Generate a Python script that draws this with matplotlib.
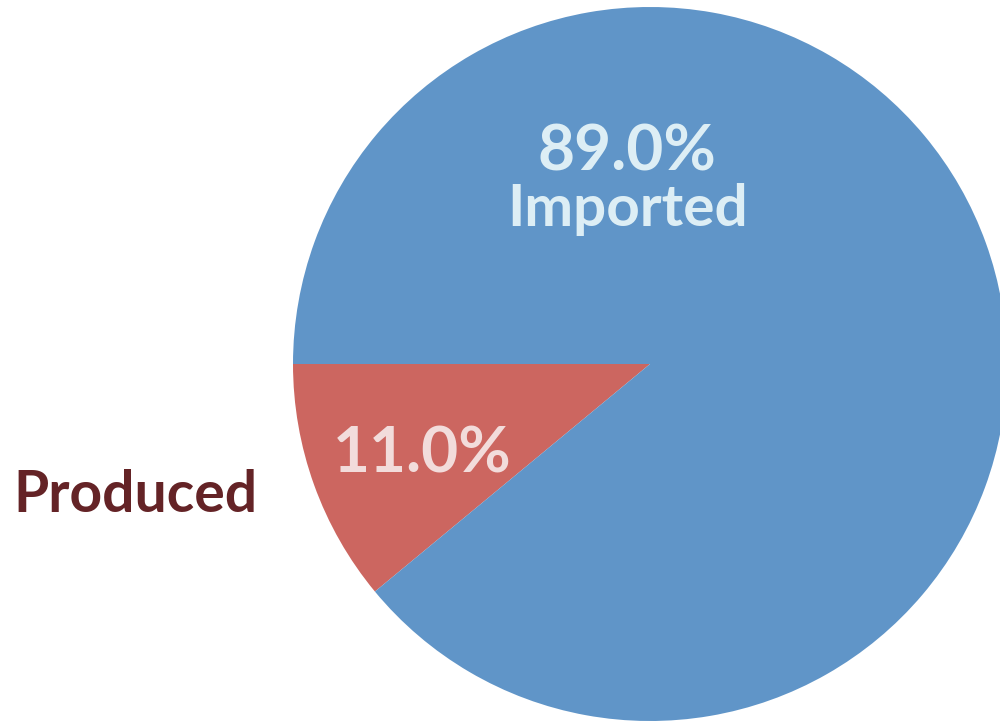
import matplotlib.pyplot as plt

labels = ["Produced", "Imported"]
shares = [11.0, 89.0]
colors = ["#CC6660", "#6095C8"]

fig = plt.figure(figsize=(10, 7.21), dpi=100)
ax = fig.add_axes([0, 0, 1, 1])

ax.pie(shares, colors=colors, startangle=180, counterclock=True,
       center=(650, 357), radius=357, frame=True,
       wedgeprops=dict(linewidth=0))
ax.set_xlim(0, 1000)
ax.set_ylim(0, 721)
ax.set_aspect("equal")
ax.set_axis_off()

font = "Lato"
ax.text(627, 569, f"{shares[1]:.1f}%", ha="center", va="center",
        fontsize=46, fontweight="bold", color="#DDEEF5", family=font)
ax.text(628, 511, labels[1], ha="center", va="center",
        fontsize=42, fontweight="bold", color="#DDEEF5", family=font)
ax.text(422, 267, f"{shares[0]:.1f}%", ha="center", va="center",
        fontsize=46, fontweight="bold", color="#F2DCDB", family=font)
ax.text(135, 226, labels[0], ha="center", va="center",
        fontsize=41, fontweight="bold", color="#642326", family=font)

fig.savefig("out.png", dpi=100)
